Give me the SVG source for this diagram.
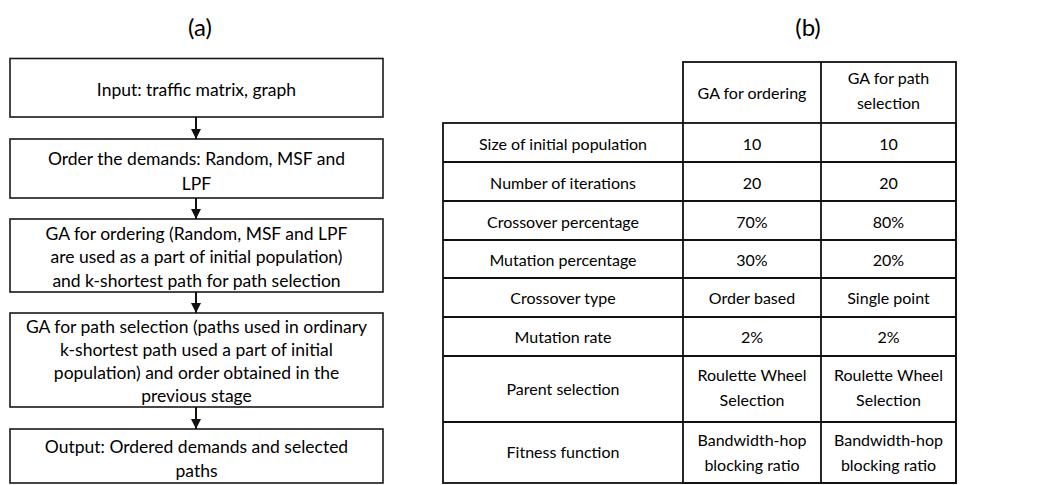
<svg xmlns="http://www.w3.org/2000/svg" width="1048" height="485" viewBox="0 0 1048 485">
  <style>
    .box { fill: #ffffff; stroke: #1a1a1a; stroke-width: 1.6; }
    .t { font-family: Lato, "Liberation Sans", sans-serif; font-size: 17.5px; fill: #000; text-anchor: middle; }
    .c { font-family: Lato, "Liberation Sans", sans-serif; font-size: 16px; fill: #000; text-anchor: middle; }
    .cap { font-family: Lato, "Liberation Sans", sans-serif; font-size: 24px; fill: #000; text-anchor: middle; }
    .grid { stroke: #111; stroke-width: 1.8; fill: none; }
    .conn { stroke: #111; stroke-width: 2; fill: none; }
  </style>
  <defs>
    <marker id="arrow" viewBox="0 0 10 10" refX="10" refY="5" markerWidth="10" markerHeight="10" markerUnits="userSpaceOnUse" orient="auto">
      <path d="M0,0 L10,5 L0,10 Z" fill="#111"/>
    </marker>
  </defs>
  <rect width="1048" height="485" fill="#ffffff"/>

  <!-- panel captions -->
  <text class="cap" x="200" y="36">(a)</text>
  <text class="cap" x="808" y="36">(b)</text>

  <!-- flowchart (a) -->
  <g id="input">
    <rect class="box" x="10" y="58.5" width="373" height="58.5"/>
    <text class="t" x="196.5" y="96">Input: traffic matrix, graph</text>
  </g>
  <g id="order-demands">
    <rect class="box" x="10" y="139" width="373" height="59"/>
    <text class="t" x="196.5" y="164.5">Order the demands: Random, MSF and</text>
    <text class="t" x="196.5" y="189.5">LPF</text>
  </g>
  <g id="ga-ordering">
    <rect class="box" x="10" y="219" width="373" height="73"/>
    <text class="t" x="196.5" y="239.5">GA for ordering (Random, MSF and LPF</text>
    <text class="t" x="196.5" y="263">are used as a part of initial population)</text>
    <text class="t" x="196.5" y="286.5">and k-shortest path for path selection</text>
  </g>
  <g id="ga-path">
    <rect class="box" x="10" y="313" width="373" height="94"/>
    <text class="t" x="196.5" y="333">GA for path selection (paths used in ordinary</text>
    <text class="t" x="196.5" y="355.5">k-shortest path used a part of initial</text>
    <text class="t" x="196.5" y="378.5">population) and order obtained in the</text>
    <text class="t" x="196.5" y="401.5">previous stage</text>
  </g>
  <g id="output">
    <rect class="box" x="10" y="429" width="373" height="54"/>
    <text class="t" x="196.5" y="453">Output: Ordered demands and selected</text>
    <text class="t" x="196.5" y="476.5">paths</text>
  </g>

  <g id="connectors">
    <line class="conn" x1="196" y1="117" x2="196" y2="139" marker-end="url(#arrow)"/>
    <line class="conn" x1="196" y1="198" x2="196" y2="219" marker-end="url(#arrow)"/>
    <line class="conn" x1="196" y1="292" x2="196" y2="313" marker-end="url(#arrow)"/>
    <line class="conn" x1="196" y1="407" x2="196" y2="429" marker-end="url(#arrow)"/>
  </g>

  <!-- parameter table (b) -->
  <g id="param-table">
    <g class="grid">
      <rect x="683" y="62" width="273" height="421"/>
      <rect x="443" y="123" width="513" height="360"/>
      <line x1="821" y1="62" x2="821" y2="483"/>
      <line x1="443" y1="162" x2="956" y2="162"/>
      <line x1="443" y1="201" x2="956" y2="201"/>
      <line x1="443" y1="240" x2="956" y2="240"/>
      <line x1="443" y1="278" x2="956" y2="278"/>
      <line x1="443" y1="317" x2="956" y2="317"/>
      <line x1="443" y1="356" x2="956" y2="356"/>
      <line x1="443" y1="422" x2="956" y2="422"/>
    </g>
    <text class="c" x="752" y="98.5">GA for ordering</text>
    <text class="c" x="888.5" y="83.5">GA for path</text>
    <text class="c" x="888.5" y="108.5">selection</text>

    <text class="c" x="563" y="149.5">Size of initial population</text>
    <text class="c" x="752" y="149.5">10</text>
    <text class="c" x="888.5" y="149.5">10</text>

    <text class="c" x="563" y="188.5">Number of iterations</text>
    <text class="c" x="752" y="188.5">20</text>
    <text class="c" x="888.5" y="188.5">20</text>

    <text class="c" x="563" y="227.5">Crossover percentage</text>
    <text class="c" x="752" y="227.5">70%</text>
    <text class="c" x="888.5" y="227.5">80%</text>

    <text class="c" x="563" y="265.5">Mutation percentage</text>
    <text class="c" x="752" y="265.5">30%</text>
    <text class="c" x="888.5" y="265.5">20%</text>

    <text class="c" x="563" y="303.5">Crossover type</text>
    <text class="c" x="752" y="303.5">Order based</text>
    <text class="c" x="888.5" y="303.5">Single point</text>

    <text class="c" x="563" y="342.5">Mutation rate</text>
    <text class="c" x="752" y="342.5">2%</text>
    <text class="c" x="888.5" y="342.5">2%</text>

    <text class="c" x="563" y="394.5">Parent selection</text>
    <text class="c" x="752" y="380.5">Roulette Wheel</text>
    <text class="c" x="752" y="405.5">Selection</text>
    <text class="c" x="888.5" y="380.5">Roulette Wheel</text>
    <text class="c" x="888.5" y="405.5">Selection</text>

    <text class="c" x="563" y="457.5">Fitness function</text>
    <text class="c" x="752" y="445.5">Bandwidth-hop</text>
    <text class="c" x="752" y="470.5">blocking ratio</text>
    <text class="c" x="888.5" y="445.5">Bandwidth-hop</text>
    <text class="c" x="888.5" y="470.5">blocking ratio</text>
  </g>
</svg>
